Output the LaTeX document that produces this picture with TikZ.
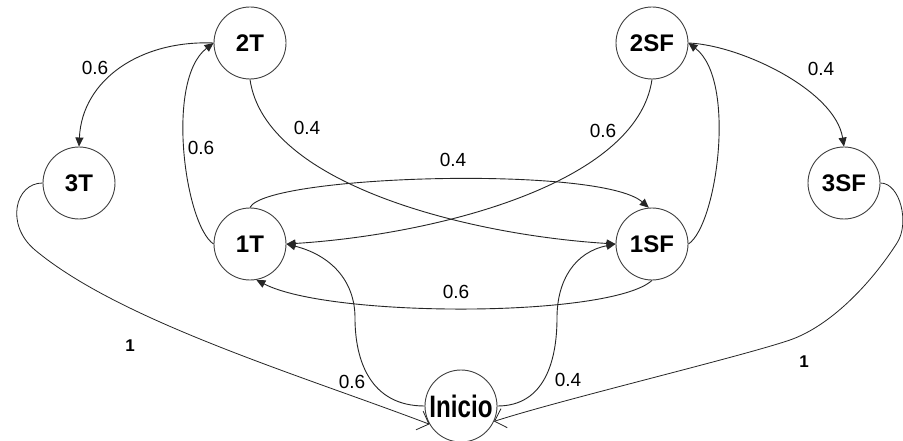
\documentclass[tikz,border=0pt]{standalone}
\usepackage{fontspec}
\usepackage{graphicx}
\setmainfont{Liberation Sans}
\usetikzlibrary{arrows.meta}
\begin{document}
\begin{tikzpicture}[x=1pt,y=-1pt,
  state/.style={circle, draw=black!75, line width=0.9pt, minimum size=72pt,
    inner sep=0pt, font=\fontsize{24}{24}\selectfont\bfseries},
  link/.style={draw=black!85, line width=0.9pt, -{Triangle[length=9pt,width=8pt]}},
  entry/.style={draw=black!85, line width=0.8pt, -{Straight Barb[length=10pt,width=20pt]}},
  prob/.style={font=\fontsize{19}{19}\selectfont, inner sep=0pt},
  unit/.style={font=\fontsize{17}{17}\selectfont\bfseries, inner sep=0pt}]

\useasboundingbox (0,0) rectangle (903,441);
\fill[white] (0,0) rectangle (903,441);

% states
\node[state] (n2T)  at (250,43)  {2T};
\node[state] (n3T)  at (79,183)  {3T};
\node[state] (n2SF) at (652,43)  {2SF};
\node[state] (n3SF) at (844,183) {3SF};
\node[state] (n1T)  at (250,244) {1T};
\node[state] (n1SF) at (652,244) {1SF};
\node[state] (ini)  at (461,406) {\scalebox{0.78}[1]{\fontsize{31}{31}\selectfont Inicio}};

% transitions between the T and SF states
\draw[link] (n2T.west) .. controls (140,40) and (82,80) .. (n3T.north);
\draw[link] (n1T.west) .. controls (185,225) and (165,80) .. (n2T.west);
\draw[link] (n2T.south) .. controls (265,185) and (470,235) .. (n1SF.west);
\draw[link] (n2SF.south) .. controls (637,185) and (432,235) .. (n1T.east);
\draw[link] (n1SF.east) .. controls (717,225) and (737,80) .. (n2SF.east);
\draw[link] (n2SF.east) .. controls (740,45) and (835,90) .. (n3SF.north);
\draw[link] (n1T.north) .. controls (265,175) and (600,165) .. (n1SF.95);
\draw[link] (n1SF.south) .. controls (610,318) and (330,318) .. (n1T.280);

% transitions out of Inicio
\draw[link] (ini.west) .. controls (370,406) and (355,360) .. (355,318)
  .. controls (355,280) and (330,255) .. (n1T.east);
\draw[link] (ini.east) .. controls (545,406) and (557,360) .. (557,318)
  .. controls (557,280) and (575,252) .. (n1SF.west);

% returns to Inicio
\draw[entry] (n3T.west) .. controls (15,183) and (5,225) .. (35,250)
  .. controls (120,321) and (300,375) .. (ini.210);
\draw[entry] (n3SF.east) .. controls (900,183) and (910,223) .. (897,243)
  .. controls (870,285) and (830,326) .. (790,340)
  .. controls (740,357) and (560,400) .. (ini.335);

% probabilities
\node[prob] (p1) at (95,68)   {0.6};
\node[prob] (p2) at (201,148) {0.6};
\node[prob] (p3) at (307,128) {0.4};
\node[prob] (p4) at (453,160) {0.4};
\node[prob] (p5) at (603,131) {0.6};
\node[prob] (p6) at (821,69)  {0.4};
\node[prob] (p7) at (456,292) {0.6};
\node[prob] (p8) at (352,382) {0.6};
\node[prob] (p9) at (568,380) {0.4};
\node[unit] (u1) at (130,346) {1};
\node[unit] (u2) at (804,362) {1};
\end{tikzpicture}
\end{document}
